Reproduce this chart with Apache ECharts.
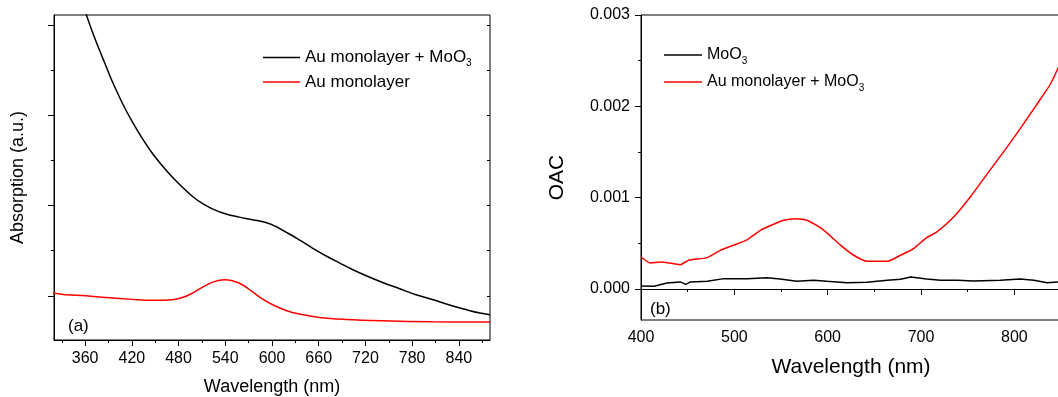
<!DOCTYPE html>
<html>
<head>
<meta charset="utf-8">
<script src="https://cdn.jsdelivr.net/npm/echarts@6/dist/echarts.min.js"></script>
<style>
  html, body { margin: 0; padding: 0; background: #fff; }
  #chart { width: 1058px; height: 397px; }
</style>
</head>
<body>
<div id="chart"></div>
<script>
// (a) absorption, arbitrary units
const absComboWl = [345, 352, 362, 369, 378, 387, 395, 408, 421, 434, 447, 464, 481, 498, 511, 524, 541, 558, 575, 592, 605, 618, 635, 652, 669, 687, 704, 721, 742, 764, 785, 807, 828, 850, 867, 880];
const absComboVal = [4.52, 4.33, 4.10, 3.93, 3.73, 3.54, 3.37, 3.13, 2.92, 2.735, 2.57, 2.39, 2.235, 2.10, 2.02, 1.96, 1.905, 1.871, 1.842, 1.812, 1.767, 1.705, 1.62, 1.528, 1.443, 1.362, 1.288, 1.221, 1.147, 1.078, 1.011, 0.956, 0.897, 0.845, 0.808, 0.79];
const absAuWl = [319, 335, 361, 387, 421, 447, 472, 485, 498, 511, 524, 539, 549, 562, 575, 588, 601, 618, 635, 661, 695, 742, 807, 880];
const absAuVal = [1.03, 1.011, 1.0, 0.98, 0.96, 0.95, 0.956, 0.98, 1.03, 1.096, 1.151, 1.177, 1.166, 1.122, 1.044, 0.963, 0.90, 0.837, 0.797, 0.76, 0.738, 0.723, 0.712, 0.709];

// (b) OAC
const oacMoWl = [400, 414, 428, 442, 448, 453, 471, 489, 514, 535, 549, 567, 585, 599, 621, 642, 664, 678, 689, 706, 721, 739, 756, 785, 806, 821, 835, 850];
const oacMoVal = [0.000033, 0.00003, 0.000066, 0.000077, 0.00005, 0.000077, 0.000084, 0.000113, 0.000113, 0.000124, 0.00011, 0.000084, 0.000095, 0.000084, 0.000069, 0.000073, 0.000095, 0.000106, 0.000131, 0.00011, 0.000095, 0.000095, 0.000088, 0.000095, 0.00011, 0.000095, 0.000069, 0.000077];
const oacComboWl = [400, 410, 421, 435, 442, 451, 471, 485, 499, 514, 528, 542, 553, 565, 578, 596, 614, 628, 642, 664, 678, 692, 706, 717, 735, 753, 771, 792, 810, 828, 839, 850];
const oacComboVal = [0.00035, 0.000285, 0.000296, 0.000277, 0.000266, 0.000314, 0.000343, 0.000423, 0.000478, 0.00054, 0.000642, 0.000708, 0.000752, 0.00077, 0.000752, 0.000642, 0.000478, 0.000369, 0.000303, 0.000303, 0.000369, 0.000442, 0.000562, 0.000624, 0.000788, 0.00101, 0.00126, 0.00155, 0.00181, 0.00208, 0.00225, 0.00249];

const ticksA = [360, 420, 480, 540, 600, 660, 720, 780, 840];
const minorTicksA = [330, 390, 450, 510, 570, 630, 690, 750, 810, 870];
const yTicksA = [1, 2, 3, 4];
const yMinorA = [1.5, 2.5, 3.5];
const yRightA = [1, 1.5, 2, 2.5, 3, 3.5, 4];
const ticksB = [400, 500, 600, 700, 800];
const minorTicksB = [450, 550, 650, 750, 850];
const yTicksB = [0, 0.001, 0.002, 0.003];
const yMinorB = [0.0005, 0.0015, 0.0025];

const zip = (xs, ys) => xs.map((x, i) => [x, ys[i]]);
const FONT = "Liberation Sans, Arial, sans-serif";
const sub = name => name.replace("MoO3", "MoO{sub|3}");
const black = { color: "#000" };

const tickOnly = (extra) => Object.assign({
  type: "value",
  axisLine: { show: false },
  axisLabel: { show: false },
  splitLine: { show: false },
}, extra);

const legendText = size => ({
  fontSize: size, color: "#000",
  rich: { sub: { fontSize: 10, verticalAlign: "bottom", padding: [12, 0, 0, 0] } },
});

const chart = echarts.init(document.getElementById("chart"));
chart.setOption({
  animation: false,
  textStyle: { fontFamily: FONT, color: "#000" },
  grid: [
    { left: 54, top: 15, width: 436, height: 325, outerBoundsMode: "none", show: true, borderColor: "#000", borderWidth: 1 },
    { left: 641, top: 15, width: 420, height: 305, outerBoundsMode: "none", show: true, borderColor: "#000", borderWidth: 1 },
  ],
  xAxis: [
    {
      type: "value", gridIndex: 0, position: "bottom", min: 320, max: 880,
      name: "Wavelength (nm)", nameLocation: "middle", nameGap: 38,
      nameTextStyle: { fontSize: 18, color: "#000" },
      axisLine: { lineStyle: black },
      axisTick: { customValues: ticksA, length: 6, lineStyle: black },
      axisLabel: { customValues: ticksA, fontSize: 16, color: "#000", margin: 11 },
      splitLine: { show: false },
    },
    tickOnly({ gridIndex: 0, position: "bottom", min: 320, max: 880, axisTick: { customValues: minorTicksA, length: 3, lineStyle: black } }),
    {
      type: "value", gridIndex: 1, position: "bottom", min: 400, max: 850,
      name: "Wavelength (nm)", nameLocation: "middle", nameGap: 37,
      nameTextStyle: { fontSize: 21, color: "#000" },
      axisLine: { lineStyle: black },
      axisTick: { customValues: ticksB, length: 6, lineStyle: black },
      axisLabel: { customValues: ticksB, fontSize: 16, color: "#000", margin: 10 },
      splitLine: { show: false },
    },
    tickOnly({ gridIndex: 1, position: "bottom", min: 400, max: 850, axisTick: { customValues: minorTicksB, length: 3, lineStyle: black } }),
  ],
  yAxis: [
    {
      type: "value", gridIndex: 0, position: "left", min: 0.51, max: 4.11,
      name: "Absorption (a.u.)", nameLocation: "middle", nameGap: 27,
      nameTextStyle: { fontSize: 18, color: "#000" },
      axisLine: { lineStyle: black },
      axisTick: { customValues: yTicksA, length: 6, lineStyle: black },
      axisLabel: { show: false },
      splitLine: { show: false },
    },
    tickOnly({ gridIndex: 0, position: "left", min: 0.51, max: 4.11, axisTick: { customValues: yMinorA, length: 3, lineStyle: black } }),
    tickOnly({ gridIndex: 0, position: "right", min: 0.51, max: 4.11,
      axisTick: { inside: true, customValues: yRightA, length: 3, lineStyle: black } }),
    {
      type: "value", gridIndex: 1, position: "left", min: -0.00034, max: 0.003,
      name: "OAC", nameLocation: "middle", nameGap: 73,
      nameTextStyle: { fontSize: 21, color: "#000", padding: [0, 20, 0, 0] },
      axisLine: { lineStyle: black },
      axisTick: { customValues: yTicksB, length: 6, lineStyle: black },
      axisLabel: { customValues: yTicksB, fontSize: 16, color: "#000", margin: 11, formatter: v => v.toFixed(3) },
      splitLine: { show: false },
    },
    tickOnly({ gridIndex: 1, position: "left", min: -0.00034, max: 0.003, axisTick: { customValues: yMinorB, length: 3, lineStyle: black } }),
  ],
  legend: [
    {
      data: ["Au monolayer + MoO3", "Au monolayer"],
      orient: "vertical", left: 258, top: 44, icon: "rect", itemWidth: 37, itemHeight: 1.5, itemGap: 5,
      formatter: sub, textStyle: legendText(17),
    },
    {
      data: ["MoO3", "Au monolayer + MoO3 "],
      orient: "vertical", left: 659, top: 42, icon: "rect", itemWidth: 38, itemHeight: 1.5, itemGap: 8,
      formatter: sub, textStyle: legendText(16),
    },
  ],
  graphic: [
    { type: "text", left: 68, top: 318, style: { text: "(a)", font: "17px " + FONT, fill: "#000" } },
    { type: "text", left: 650, top: 301, style: { text: "(b)", font: "17px " + FONT, fill: "#000" } },
  ],
  series: [
    { name: "Au monolayer + MoO3", type: "line", xAxisIndex: 0, yAxisIndex: 0, data: zip(absComboWl, absComboVal),
      symbol: "none", smooth: 0.4, lineStyle: { color: "#000", width: 1.5 }, itemStyle: { color: "#000" } },
    { name: "Au monolayer", type: "line", xAxisIndex: 0, yAxisIndex: 0, data: zip(absAuWl, absAuVal),
      symbol: "none", smooth: 0.4, lineStyle: { color: "#ff0000", width: 1.5 }, itemStyle: { color: "#ff0000" } },
    { name: "MoO3", type: "line", xAxisIndex: 2, yAxisIndex: 3, data: zip(oacMoWl, oacMoVal),
      symbol: "none", lineStyle: { color: "#000", width: 1.5 }, itemStyle: { color: "#000" } },
    { name: "Au monolayer + MoO3 ", type: "line", xAxisIndex: 2, yAxisIndex: 3, data: zip(oacComboWl, oacComboVal),
      symbol: "none", smooth: 0.2, lineStyle: { color: "#ff0000", width: 1.5 }, itemStyle: { color: "#ff0000" } },
  ],
});
</script>
</body>
</html>
